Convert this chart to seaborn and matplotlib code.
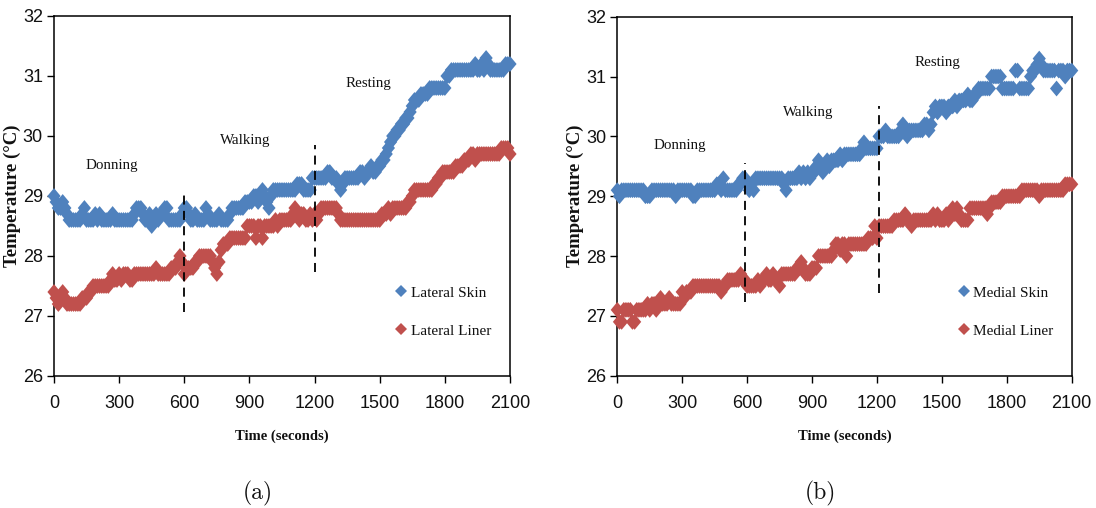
import numpy as np
import pandas as pd
import matplotlib
matplotlib.use("Agg")
import matplotlib.pyplot as plt
from matplotlib.lines import Line2D
import seaborn as sns

# One temperature reading every 10 s over the 35-minute session
sample_times = np.arange(0, 2101, 10)

lateral_skin = [
    29.0, 28.9, 28.8, 28.8, 28.9, 28.8, 28.7, 28.6, 28.6, 28.6,
    28.6, 28.6, 28.6, 28.7, 28.8, 28.6, 28.6, 28.6, 28.6, 28.7,
    28.6, 28.7, 28.6, 28.6, 28.6, 28.6, 28.6, 28.7, 28.6, 28.6,
    28.6, 28.6, 28.6, 28.6, 28.6, 28.6, 28.6, 28.7, 28.8, 28.8,
    28.8, 28.7, 28.6, 28.6, 28.7, 28.5, 28.6, 28.7, 28.6, 28.7,
    28.7, 28.8, 28.8, 28.6, 28.6, 28.6, 28.6, 28.6, 28.6, 28.7,
    28.8, 28.8, 28.7, 28.6, 28.6, 28.7, 28.6, 28.6, 28.6, 28.6,
    28.8, 28.7, 28.6, 28.6, 28.6, 28.6, 28.7, 28.6, 28.6, 28.6,
    28.6, 28.7, 28.8, 28.8, 28.8, 28.8, 28.8, 28.8, 28.9, 28.9,
    28.9, 28.9, 29.0, 29.0, 28.9, 29.0, 29.1, 29.0, 28.9, 28.8,
    29.0, 29.1, 29.1, 29.1, 29.1, 29.1, 29.1, 29.1, 29.1, 29.1,
    29.1, 29.1, 29.2, 29.2, 29.2, 29.1, 29.1, 29.1, 29.1, 29.3,
    29.3, 29.3, 29.3, 29.3, 29.3, 29.3, 29.4, 29.4, 29.3, 29.3,
    29.3, 29.2, 29.1, 29.2, 29.3, 29.3, 29.3, 29.3, 29.3, 29.3,
    29.3, 29.4, 29.4, 29.3, 29.4, 29.4, 29.5, 29.4, 29.4, 29.5,
    29.5, 29.6, 29.6, 29.7, 29.8, 29.9, 30.0, 30.0, 30.1, 30.1,
    30.2, 30.2, 30.3, 30.3, 30.4, 30.5, 30.6, 30.6, 30.6, 30.7,
    30.7, 30.7, 30.7, 30.8, 30.8, 30.8, 30.8, 30.8, 30.8, 30.8,
    30.8, 31.0, 31.0, 31.1, 31.1, 31.1, 31.1, 31.1, 31.1, 31.1,
    31.1, 31.1, 31.1, 31.1, 31.2, 31.1, 31.1, 31.2, 31.1, 31.3,
    31.2, 31.1, 31.1, 31.1, 31.1, 31.1, 31.1, 31.1, 31.2, 31.2,
    31.2,
]

lateral_liner = [
    27.4, 27.3, 27.2, 27.3, 27.4, 27.3, 27.2, 27.2, 27.2, 27.2,
    27.2, 27.2, 27.2, 27.3, 27.3, 27.3, 27.4, 27.4, 27.5, 27.5,
    27.5, 27.5, 27.5, 27.5, 27.5, 27.5, 27.6, 27.7, 27.6, 27.6,
    27.7, 27.6, 27.7, 27.7, 27.7, 27.6, 27.6, 27.7, 27.7, 27.7,
    27.7, 27.7, 27.7, 27.7, 27.7, 27.7, 27.7, 27.8, 27.7, 27.7,
    27.7, 27.7, 27.7, 27.7, 27.8, 27.8, 27.8, 27.9, 28.0, 27.9,
    27.7, 27.8, 27.8, 27.8, 27.8, 27.9, 27.9, 28.0, 28.0, 28.0,
    28.0, 28.0, 28.0, 27.9, 27.8, 27.7, 27.9, 28.1, 28.2, 28.2,
    28.2, 28.3, 28.3, 28.3, 28.3, 28.3, 28.3, 28.3, 28.3, 28.5,
    28.5, 28.5, 28.5, 28.3, 28.5, 28.5, 28.3, 28.5, 28.5, 28.5,
    28.5, 28.5, 28.6, 28.5, 28.6, 28.6, 28.6, 28.6, 28.6, 28.6,
    28.7, 28.8, 28.7, 28.6, 28.7, 28.7, 28.6, 28.6, 28.7, 28.6,
    28.7, 28.6, 28.7, 28.8, 28.8, 28.8, 28.8, 28.8, 28.8, 28.8,
    28.8, 28.7, 28.6, 28.6, 28.6, 28.6, 28.6, 28.6, 28.6, 28.6,
    28.6, 28.6, 28.6, 28.6, 28.6, 28.6, 28.6, 28.6, 28.6, 28.6,
    28.6, 28.7, 28.7, 28.7, 28.8, 28.7, 28.8, 28.8, 28.8, 28.8,
    28.8, 28.8, 28.8, 28.9, 28.9, 29.0, 29.1, 29.1, 29.1, 29.1,
    29.1, 29.1, 29.1, 29.1, 29.1, 29.2, 29.2, 29.3, 29.3, 29.4,
    29.4, 29.4, 29.4, 29.4, 29.4, 29.5, 29.5, 29.5, 29.5, 29.6,
    29.6, 29.6, 29.7, 29.7, 29.6, 29.7, 29.7, 29.7, 29.7, 29.7,
    29.7, 29.7, 29.7, 29.7, 29.7, 29.7, 29.8, 29.8, 29.8, 29.8,
    29.7,
]

medial_skin = [
    29.1, 29.0, 29.1, 29.1, 29.1, 29.1, 29.1, 29.1, 29.1, 29.1,
    29.1, 29.1, 29.1, 29.0, 29.0, 29.0, 29.1, 29.1, 29.1, 29.1,
    29.1, 29.1, 29.1, 29.1, 29.1, 29.1, 29.1, 29.0, 29.1, 29.1,
    29.1, 29.1, 29.1, 29.1, 29.1, 29.0, 29.0, 29.1, 29.1, 29.1,
    29.1, 29.1, 29.1, 29.1, 29.1, 29.1, 29.2, 29.2, 29.1, 29.3,
    29.1, 29.1, 29.1, 29.1, 29.1, 29.1, 29.2, 29.2, 29.3, 29.3,
    29.2, 29.1, 29.2, 29.1, 29.3, 29.3, 29.3, 29.3, 29.3, 29.3,
    29.3, 29.3, 29.3, 29.3, 29.3, 29.3, 29.3, 29.2, 29.1, 29.3,
    29.3, 29.3, 29.3, 29.3, 29.4, 29.3, 29.4, 29.3, 29.4, 29.3,
    29.4, 29.4, 29.5, 29.6, 29.5, 29.4, 29.5, 29.6, 29.5, 29.6,
    29.6, 29.6, 29.6, 29.7, 29.6, 29.7, 29.7, 29.7, 29.7, 29.7,
    29.7, 29.7, 29.7, 29.8, 29.9, 29.8, 29.8, 29.8, 29.8, 29.8,
    29.8, 30.0, 30.0, 30.0, 30.1, 30.0, 30.0, 30.0, 30.0, 30.0,
    30.0, 30.1, 30.2, 30.1, 30.0, 30.1, 30.1, 30.1, 30.1, 30.1,
    30.1, 30.1, 30.2, 30.2, 30.1, 30.2, 30.4, 30.5, 30.4, 30.5,
    30.5, 30.5, 30.4, 30.5, 30.5, 30.5, 30.6, 30.5, 30.6, 30.6,
    30.6, 30.6, 30.7, 30.6, 30.6, 30.7, 30.7, 30.8, 30.8, 30.8,
    30.8, 30.8, 30.8, 31.0, 31.0, 31.0, 31.0, 31.0, 30.8, 30.8,
    30.8, 30.8, 30.8, 30.8, 31.1, 31.1, 30.8, 30.8, 30.8, 30.8,
    30.8, 31.0, 31.1, 31.1, 31.2, 31.3, 31.2, 31.1, 31.1, 31.1,
    31.1, 31.1, 31.1, 30.8, 31.1, 31.1, 31.1, 31.0, 31.1, 31.1,
    31.1,
]

medial_liner = [
    27.1, 26.9, 26.9, 27.1, 27.1, 27.1, 27.1, 26.9, 26.9, 27.1,
    27.1, 27.1, 27.1, 27.1, 27.2, 27.1, 27.2, 27.2, 27.1, 27.2,
    27.3, 27.2, 27.2, 27.2, 27.3, 27.2, 27.2, 27.2, 27.2, 27.2,
    27.4, 27.3, 27.4, 27.4, 27.4, 27.5, 27.5, 27.5, 27.5, 27.5,
    27.5, 27.5, 27.5, 27.5, 27.5, 27.5, 27.5, 27.5, 27.4, 27.5,
    27.5, 27.6, 27.6, 27.6, 27.6, 27.6, 27.6, 27.7, 27.6, 27.6,
    27.5, 27.5, 27.5, 27.5, 27.5, 27.6, 27.5, 27.6, 27.6, 27.7,
    27.6, 27.6, 27.7, 27.6, 27.6, 27.5, 27.7, 27.7, 27.7, 27.7,
    27.7, 27.7, 27.7, 27.8, 27.8, 27.9, 27.8, 27.7, 27.7, 27.7,
    27.8, 27.8, 27.8, 28.0, 28.0, 28.0, 28.0, 28.0, 28.0, 28.0,
    28.1, 28.2, 28.2, 28.1, 28.2, 28.2, 28.0, 28.2, 28.2, 28.2,
    28.2, 28.2, 28.2, 28.2, 28.2, 28.2, 28.3, 28.3, 28.3, 28.5,
    28.3, 28.5, 28.5, 28.5, 28.5, 28.5, 28.5, 28.5, 28.6, 28.6,
    28.6, 28.6, 28.6, 28.7, 28.6, 28.6, 28.5, 28.6, 28.6, 28.6,
    28.6, 28.6, 28.6, 28.6, 28.6, 28.6, 28.7, 28.6, 28.7, 28.6,
    28.6, 28.6, 28.7, 28.6, 28.7, 28.8, 28.7, 28.8, 28.7, 28.6,
    28.6, 28.6, 28.6, 28.8, 28.8, 28.8, 28.8, 28.8, 28.8, 28.8,
    28.8, 28.7, 28.8, 28.9, 28.9, 28.9, 28.9, 28.9, 29.0, 29.0,
    29.0, 29.0, 29.0, 29.0, 29.0, 29.0, 29.0, 29.1, 29.1, 29.1,
    29.1, 29.1, 29.1, 29.1, 29.1, 29.0, 29.1, 29.1, 29.1, 29.1,
    29.1, 29.1, 29.1, 29.1, 29.1, 29.1, 29.1, 29.2, 29.2, 29.2,
    29.2,
]

x_ticks = [0, 300, 600, 900, 1200, 1500, 1800, 2100]
y_ticks = [26, 27, 28, 29, 30, 31, 32]
phase_names = ["Donning", "Walking", "Resting"]

# Phase-label anchors (time, temperature) and dashed phase separators for each panel
lateral_phase_pos = [(267, 29.5), (880, 29.93), (1446, 30.87)]
medial_phase_pos = [(289, 29.84), (882, 30.4), (1480, 31.24)]
lateral_dividers = [(600, 27.07, 29.1), (1200, 27.74, 29.85)]
medial_dividers = [(588, 27.24, 29.55), (1209, 27.38, 30.5)]

SKIN_BLUE = "#4F81BD"
LINER_RED = "#C0504D"

sns.set_theme(style="white")
plt.rcParams["font.family"] = ["Liberation Sans", "DejaVu Sans"]

# Slightly tall diamond, like the spreadsheet marker
diamond = [(0, 1.2), (1, 0), (0, -1.2), (-1, 0), (0, 1.2)]

fig = plt.figure(figsize=(10.96, 5.08), dpi=100)
ax_a = fig.add_axes([54 / 1096, 132 / 508, 456 / 1096, 360 / 508])
ax_b = fig.add_axes([617.3 / 1096, 132.3 / 508, 454.4 / 1096, 359 / 508])

panels = [
    (ax_a, "Lateral", lateral_skin, lateral_liner, lateral_phase_pos, lateral_dividers, -0.072, "(a)"),
    (ax_b, "Medial", medial_skin, medial_liner, medial_phase_pos, medial_dividers, -0.074, "(b)"),
]

for ax, side, skin, liner, phase_pos, dividers, ylab_x, caption in panels:
    df = pd.DataFrame({
        "Time": np.concatenate([sample_times, sample_times]),
        "Temperature": np.concatenate([skin, liner]),
        "Series": [f"{side} Skin"] * len(sample_times) + [f"{side} Liner"] * len(sample_times),
    })
    sns.scatterplot(
        data=df, x="Time", y="Temperature", hue="Series",
        palette=[SKIN_BLUE, LINER_RED], marker=diamond, s=130,
        linewidth=0, ax=ax, legend=False, clip_on=False, zorder=3,
    )

    for t, lo, hi in dividers:
        ax.plot([t, t], [lo, hi], color="black", lw=1.3, ls=(0, (5, 3.5)), zorder=4)

    for name, (t, temp) in zip(phase_names, phase_pos):
        ax.text(t, temp, name, ha="center", va="center",
                family="Liberation Serif", fontsize=10.8, color="#111111")

    ax.set_xlim(0, 2100)
    ax.set_ylim(26, 32)
    ax.set_xticks(x_ticks)
    ax.set_yticks(y_ticks)
    ax.set_xticklabels([str(v) for v in x_ticks])
    ax.set_yticklabels([str(v) for v in y_ticks])
    ax.tick_params(axis="both", direction="out", length=5, width=1,
                   color="black", labelsize=13, labelcolor="#111111")
    ax.tick_params(axis="x", pad=9)
    ax.tick_params(axis="y", pad=3)
    ax.tick_params(bottom=True, left=True)
    for sp in ax.spines.values():
        sp.set_visible(True)
        sp.set_color("black")
        sp.set_linewidth(1.1)
    ax.set_facecolor("white")

    ax.set_xlabel("Time (seconds)", family="Liberation Serif",
                  fontweight="bold", fontsize=10.5, color="#111111")
    ax.xaxis.set_label_coords(0.5, -0.15)
    ax.set_ylabel("Temperature (°C)", family="Liberation Serif",
                  fontweight="bold", fontsize=13.5, color="#111111")
    ax.yaxis.set_label_coords(ylab_x, 0.5)

    handles = [
        Line2D([], [], ls="none", marker="D", markersize=6, color=SKIN_BLUE,
               markeredgewidth=0, label=f"{side} Skin"),
        Line2D([], [], ls="none", marker="D", markersize=6, color=LINER_RED,
               markeredgewidth=0, label=f"{side} Liner"),
    ]
    leg = ax.legend(handles=handles, loc="upper left", bbox_to_anchor=(0.752, 0.25),
                    frameon=False, handlelength=0.6, handletextpad=0.3,
                    labelspacing=1.6, borderpad=0, borderaxespad=0,
                    prop={"family": "Liberation Serif", "size": 11})
    for txt in leg.get_texts():
        txt.set_color("#111111")

    # Sub-figure caption below each panel
    bbox = ax.get_position()
    fig.text(bbox.x0 + bbox.width / 2 - 0.022, 15 / 508, caption, ha="center",
             va="center", family="cmr10", fontsize=17, color="#111111")

fig.savefig("out.png", dpi=100, facecolor="white")
